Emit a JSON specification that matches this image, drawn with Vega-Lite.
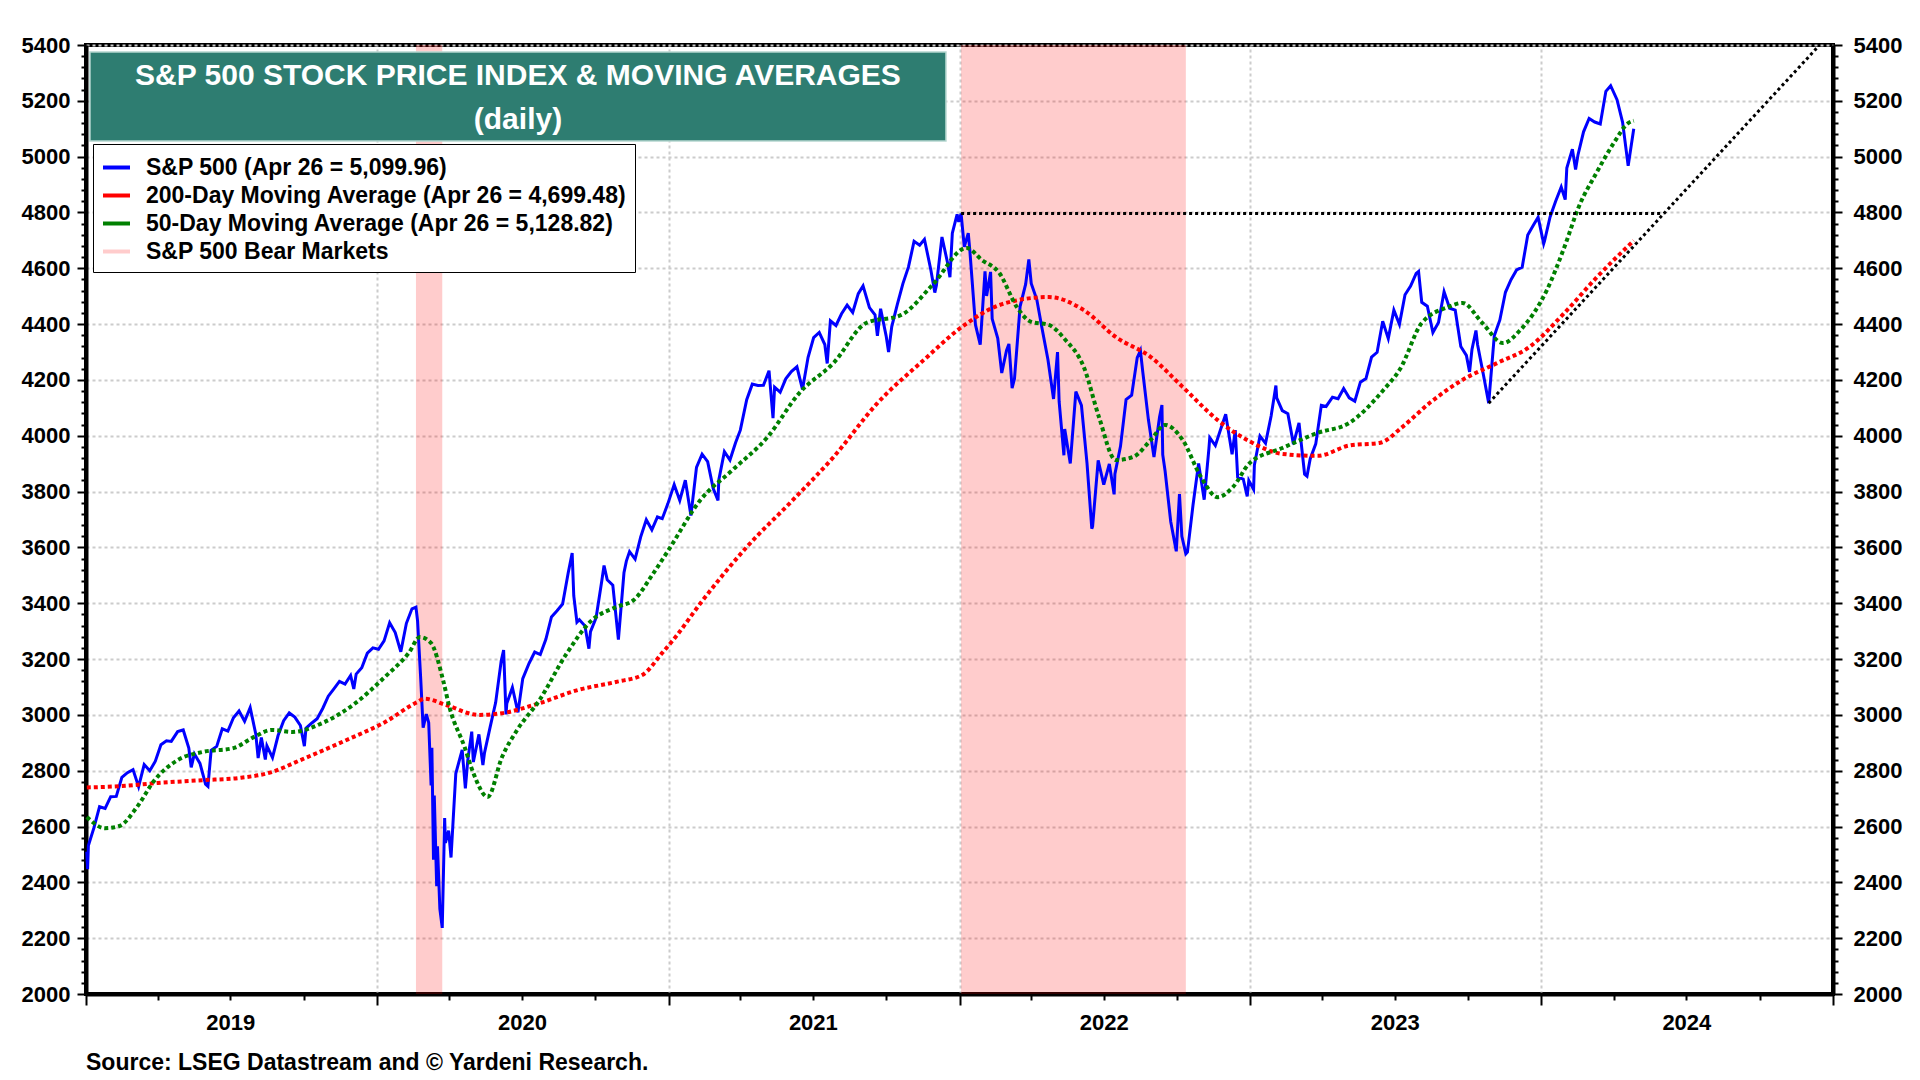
{
  "$schema": "https://vega.github.io/schema/vega-lite/v6.json",
  "width": 1747,
  "height": 949,
  "autosize": {"type": "none"},
  "padding": {"left": 86, "top": 45, "right": 87, "bottom": 86},
  "background": "white",
  "title": {
    "text": "Source: LSEG Datastream and © Yardeni Research.",
    "orient": "bottom",
    "anchor": "start",
    "frame": "group",
    "font": "Liberation Sans",
    "fontSize": 23,
    "fontWeight": "bold",
    "color": "black",
    "offset": 19
  },
  "config": {
    "font": "Liberation Sans",
    "view": {"stroke": "black", "strokeWidth": 4},
    "axis": {
      "labelFont": "Liberation Sans",
      "labelFontWeight": "bold",
      "labelFontSize": 22,
      "labelColor": "black",
      "domainColor": "black",
      "domainWidth": 4,
      "tickColor": "black",
      "tickWidth": 2,
      "gridColor": "#cccccc",
      "gridWidth": 2,
      "gridDash": [3, 3],
      "title": null
    }
  },
  "datasets": {
    "bears": [
      {"start": "2020-02-19", "end": "2020-03-23"},
      {"start": "2022-01-03", "end": "2022-10-12"}
    ],
    "trend": [
      {"line": "top", "date": "2022-01-03", "value": 4796},
      {"line": "top", "date": "2024-06-02", "value": 4796},
      {"line": "support", "date": "2023-10-27", "value": 4117},
      {"line": "support", "date": "2024-12-12", "value": 5390}
    ],
    "ma200": [
      {"date": "2019-01-02", "value": 2740}, {"date": "2019-02-15", "value": 2745},
      {"date": "2019-04-01", "value": 2756}, {"date": "2019-05-27", "value": 2766},
      {"date": "2019-07-12", "value": 2774}, {"date": "2019-08-22", "value": 2795},
      {"date": "2019-09-27", "value": 2838}, {"date": "2019-11-24", "value": 2910},
      {"date": "2020-01-11", "value": 2974}, {"date": "2020-02-20", "value": 3045},
      {"date": "2020-03-01", "value": 3058}, {"date": "2020-03-28", "value": 3035},
      {"date": "2020-05-08", "value": 3000}, {"date": "2020-06-06", "value": 3006},
      {"date": "2020-07-23", "value": 3042}, {"date": "2020-09-09", "value": 3089},
      {"date": "2020-10-27", "value": 3118}, {"date": "2020-11-29", "value": 3143},
      {"date": "2020-12-24", "value": 3222}, {"date": "2021-01-10", "value": 3280},
      {"date": "2021-02-10", "value": 3400}, {"date": "2021-04-08", "value": 3598},
      {"date": "2021-06-06", "value": 3770}, {"date": "2021-07-27", "value": 3924},
      {"date": "2021-09-20", "value": 4117}, {"date": "2021-11-17", "value": 4271},
      {"date": "2022-01-04", "value": 4390}, {"date": "2022-02-17", "value": 4465},
      {"date": "2022-03-14", "value": 4485}, {"date": "2022-04-23", "value": 4497},
      {"date": "2022-06-06", "value": 4450}, {"date": "2022-07-16", "value": 4354},
      {"date": "2022-08-29", "value": 4282}, {"date": "2022-10-08", "value": 4175},
      {"date": "2022-11-21", "value": 4056}, {"date": "2022-12-31", "value": 3980},
      {"date": "2023-02-10", "value": 3935}, {"date": "2023-03-26", "value": 3928},
      {"date": "2023-05-05", "value": 3965}, {"date": "2023-06-13", "value": 3975},
      {"date": "2023-07-10", "value": 4030}, {"date": "2023-08-15", "value": 4120},
      {"date": "2023-09-24", "value": 4200}, {"date": "2023-11-07", "value": 4261},
      {"date": "2023-12-17", "value": 4318}, {"date": "2024-01-30", "value": 4440},
      {"date": "2024-03-11", "value": 4569}, {"date": "2024-04-26", "value": 4699}
    ],
    "ma50": [
      {"date": "2019-01-02", "value": 2634}, {"date": "2019-01-25", "value": 2594},
      {"date": "2019-02-12", "value": 2602}, {"date": "2019-03-06", "value": 2670},
      {"date": "2019-03-28", "value": 2766}, {"date": "2019-04-26", "value": 2838},
      {"date": "2019-05-27", "value": 2867}, {"date": "2019-07-05", "value": 2881},
      {"date": "2019-07-31", "value": 2921}, {"date": "2019-08-22", "value": 2946},
      {"date": "2019-09-17", "value": 2939}, {"date": "2019-10-27", "value": 2974},
      {"date": "2019-12-05", "value": 3042}, {"date": "2020-01-11", "value": 3136},
      {"date": "2020-02-10", "value": 3222}, {"date": "2020-02-24", "value": 3279},
      {"date": "2020-03-09", "value": 3257}, {"date": "2020-03-24", "value": 3125},
      {"date": "2020-04-01", "value": 3028}, {"date": "2020-04-20", "value": 2885},
      {"date": "2020-05-01", "value": 2792}, {"date": "2020-05-19", "value": 2706},
      {"date": "2020-06-06", "value": 2849}, {"date": "2020-06-25", "value": 2946},
      {"date": "2020-07-23", "value": 3053}, {"date": "2020-08-25", "value": 3215},
      {"date": "2020-09-27", "value": 3340}, {"date": "2020-10-27", "value": 3386},
      {"date": "2020-11-18", "value": 3411}, {"date": "2020-12-13", "value": 3508},
      {"date": "2021-01-01", "value": 3591}, {"date": "2021-02-10", "value": 3770},
      {"date": "2021-03-22", "value": 3877}, {"date": "2021-05-05", "value": 3995},
      {"date": "2021-06-14", "value": 4153}, {"date": "2021-07-27", "value": 4261},
      {"date": "2021-09-06", "value": 4404}, {"date": "2021-10-20", "value": 4433},
      {"date": "2021-11-28", "value": 4540}, {"date": "2022-01-10", "value": 4673},
      {"date": "2022-01-29", "value": 4630}, {"date": "2022-02-20", "value": 4583},
      {"date": "2022-03-14", "value": 4461}, {"date": "2022-04-01", "value": 4408},
      {"date": "2022-04-23", "value": 4397}, {"date": "2022-05-14", "value": 4343},
      {"date": "2022-06-06", "value": 4246}, {"date": "2022-06-25", "value": 4067},
      {"date": "2022-07-16", "value": 3913}, {"date": "2022-08-07", "value": 3924},
      {"date": "2022-08-29", "value": 3985}, {"date": "2022-09-16", "value": 4039},
      {"date": "2022-10-08", "value": 3985}, {"date": "2022-10-31", "value": 3852},
      {"date": "2022-11-21", "value": 3780}, {"date": "2022-12-10", "value": 3816},
      {"date": "2022-12-31", "value": 3902}, {"date": "2023-02-10", "value": 3956},
      {"date": "2023-03-26", "value": 4010}, {"date": "2023-05-05", "value": 4046},
      {"date": "2023-06-17", "value": 4164}, {"date": "2023-07-08", "value": 4240},
      {"date": "2023-08-04", "value": 4404}, {"date": "2023-09-06", "value": 4461},
      {"date": "2023-09-24", "value": 4476}, {"date": "2023-10-19", "value": 4404},
      {"date": "2023-11-14", "value": 4332}, {"date": "2023-12-06", "value": 4380},
      {"date": "2024-01-08", "value": 4522}, {"date": "2024-01-30", "value": 4676},
      {"date": "2024-02-17", "value": 4820}, {"date": "2024-03-10", "value": 4941},
      {"date": "2024-04-01", "value": 5049}, {"date": "2024-04-19", "value": 5120},
      {"date": "2024-04-26", "value": 5129}
    ],
    "spx": [
      {"date": "2019-01-02", "close": 2510}, {"date": "2019-01-03", "close": 2447},
      {"date": "2019-01-04", "close": 2532}, {"date": "2019-01-11", "close": 2596},
      {"date": "2019-01-18", "close": 2671}, {"date": "2019-01-25", "close": 2665},
      {"date": "2019-02-01", "close": 2707}, {"date": "2019-02-08", "close": 2708},
      {"date": "2019-02-15", "close": 2776}, {"date": "2019-02-22", "close": 2793},
      {"date": "2019-03-01", "close": 2804}, {"date": "2019-03-08", "close": 2743},
      {"date": "2019-03-15", "close": 2822}, {"date": "2019-03-22", "close": 2800},
      {"date": "2019-03-29", "close": 2834}, {"date": "2019-04-05", "close": 2893},
      {"date": "2019-04-12", "close": 2907}, {"date": "2019-04-18", "close": 2905},
      {"date": "2019-04-26", "close": 2940}, {"date": "2019-05-03", "close": 2946},
      {"date": "2019-05-10", "close": 2881}, {"date": "2019-05-13", "close": 2812},
      {"date": "2019-05-17", "close": 2860}, {"date": "2019-05-24", "close": 2826},
      {"date": "2019-05-31", "close": 2752}, {"date": "2019-06-03", "close": 2744},
      {"date": "2019-06-07", "close": 2873}, {"date": "2019-06-14", "close": 2887},
      {"date": "2019-06-21", "close": 2950}, {"date": "2019-06-28", "close": 2942},
      {"date": "2019-07-05", "close": 2990}, {"date": "2019-07-12", "close": 3014},
      {"date": "2019-07-19", "close": 2977}, {"date": "2019-07-26", "close": 3026},
      {"date": "2019-08-02", "close": 2932}, {"date": "2019-08-05", "close": 2845},
      {"date": "2019-08-09", "close": 2919}, {"date": "2019-08-14", "close": 2840},
      {"date": "2019-08-16", "close": 2889}, {"date": "2019-08-23", "close": 2847},
      {"date": "2019-08-30", "close": 2926}, {"date": "2019-09-06", "close": 2979},
      {"date": "2019-09-13", "close": 3007}, {"date": "2019-09-20", "close": 2992},
      {"date": "2019-09-27", "close": 2962}, {"date": "2019-10-02", "close": 2888},
      {"date": "2019-10-04", "close": 2952}, {"date": "2019-10-11", "close": 2970},
      {"date": "2019-10-18", "close": 2986}, {"date": "2019-10-25", "close": 3023},
      {"date": "2019-11-01", "close": 3067}, {"date": "2019-11-08", "close": 3093},
      {"date": "2019-11-15", "close": 3120}, {"date": "2019-11-22", "close": 3110},
      {"date": "2019-11-29", "close": 3141}, {"date": "2019-12-03", "close": 3093},
      {"date": "2019-12-06", "close": 3146}, {"date": "2019-12-13", "close": 3169},
      {"date": "2019-12-20", "close": 3221}, {"date": "2019-12-27", "close": 3240},
      {"date": "2020-01-03", "close": 3235}, {"date": "2020-01-10", "close": 3265},
      {"date": "2020-01-17", "close": 3330}, {"date": "2020-01-24", "close": 3295},
      {"date": "2020-01-31", "close": 3226}, {"date": "2020-02-07", "close": 3328},
      {"date": "2020-02-14", "close": 3380}, {"date": "2020-02-19", "close": 3386},
      {"date": "2020-02-21", "close": 3338}, {"date": "2020-02-25", "close": 3128},
      {"date": "2020-02-28", "close": 2954}, {"date": "2020-03-03", "close": 3003},
      {"date": "2020-03-06", "close": 2972}, {"date": "2020-03-09", "close": 2747},
      {"date": "2020-03-10", "close": 2882}, {"date": "2020-03-12", "close": 2481},
      {"date": "2020-03-13", "close": 2711}, {"date": "2020-03-16", "close": 2386},
      {"date": "2020-03-17", "close": 2529}, {"date": "2020-03-20", "close": 2305},
      {"date": "2020-03-23", "close": 2237}, {"date": "2020-03-26", "close": 2630},
      {"date": "2020-03-27", "close": 2541}, {"date": "2020-03-31", "close": 2585},
      {"date": "2020-04-03", "close": 2489}, {"date": "2020-04-09", "close": 2790},
      {"date": "2020-04-17", "close": 2875}, {"date": "2020-04-21", "close": 2737},
      {"date": "2020-04-24", "close": 2837}, {"date": "2020-04-29", "close": 2940},
      {"date": "2020-05-01", "close": 2831}, {"date": "2020-05-08", "close": 2930},
      {"date": "2020-05-13", "close": 2820}, {"date": "2020-05-15", "close": 2864},
      {"date": "2020-05-22", "close": 2955}, {"date": "2020-05-29", "close": 3044},
      {"date": "2020-06-05", "close": 3194}, {"date": "2020-06-08", "close": 3232},
      {"date": "2020-06-11", "close": 3002}, {"date": "2020-06-12", "close": 3041},
      {"date": "2020-06-19", "close": 3098}, {"date": "2020-06-26", "close": 3009},
      {"date": "2020-07-02", "close": 3130}, {"date": "2020-07-10", "close": 3185},
      {"date": "2020-07-17", "close": 3225}, {"date": "2020-07-24", "close": 3216},
      {"date": "2020-07-31", "close": 3271}, {"date": "2020-08-07", "close": 3351},
      {"date": "2020-08-14", "close": 3373}, {"date": "2020-08-21", "close": 3397},
      {"date": "2020-08-28", "close": 3508}, {"date": "2020-09-02", "close": 3580},
      {"date": "2020-09-04", "close": 3427}, {"date": "2020-09-08", "close": 3332},
      {"date": "2020-09-11", "close": 3341}, {"date": "2020-09-18", "close": 3319},
      {"date": "2020-09-23", "close": 3237}, {"date": "2020-09-25", "close": 3298},
      {"date": "2020-10-02", "close": 3348}, {"date": "2020-10-09", "close": 3477},
      {"date": "2020-10-12", "close": 3535}, {"date": "2020-10-16", "close": 3484},
      {"date": "2020-10-23", "close": 3465}, {"date": "2020-10-30", "close": 3270},
      {"date": "2020-11-06", "close": 3509}, {"date": "2020-11-09", "close": 3551},
      {"date": "2020-11-13", "close": 3585}, {"date": "2020-11-20", "close": 3558},
      {"date": "2020-11-27", "close": 3638}, {"date": "2020-12-04", "close": 3699},
      {"date": "2020-12-11", "close": 3663}, {"date": "2020-12-18", "close": 3709},
      {"date": "2020-12-24", "close": 3703}, {"date": "2020-12-31", "close": 3756},
      {"date": "2021-01-08", "close": 3825}, {"date": "2021-01-15", "close": 3768},
      {"date": "2021-01-22", "close": 3841}, {"date": "2021-01-29", "close": 3714},
      {"date": "2021-02-05", "close": 3887}, {"date": "2021-02-12", "close": 3934},
      {"date": "2021-02-19", "close": 3907}, {"date": "2021-02-26", "close": 3811},
      {"date": "2021-03-04", "close": 3768}, {"date": "2021-03-05", "close": 3842},
      {"date": "2021-03-12", "close": 3943}, {"date": "2021-03-19", "close": 3913},
      {"date": "2021-03-26", "close": 3975}, {"date": "2021-04-01", "close": 4020},
      {"date": "2021-04-09", "close": 4129}, {"date": "2021-04-16", "close": 4185},
      {"date": "2021-04-23", "close": 4180}, {"date": "2021-04-30", "close": 4181},
      {"date": "2021-05-07", "close": 4233}, {"date": "2021-05-12", "close": 4063},
      {"date": "2021-05-14", "close": 4174}, {"date": "2021-05-21", "close": 4156},
      {"date": "2021-05-28", "close": 4204}, {"date": "2021-06-04", "close": 4230},
      {"date": "2021-06-11", "close": 4247}, {"date": "2021-06-18", "close": 4166},
      {"date": "2021-06-25", "close": 4281}, {"date": "2021-07-02", "close": 4352},
      {"date": "2021-07-09", "close": 4370}, {"date": "2021-07-16", "close": 4327},
      {"date": "2021-07-19", "close": 4259}, {"date": "2021-07-23", "close": 4412},
      {"date": "2021-07-30", "close": 4395}, {"date": "2021-08-06", "close": 4437},
      {"date": "2021-08-13", "close": 4468}, {"date": "2021-08-20", "close": 4442},
      {"date": "2021-08-27", "close": 4509}, {"date": "2021-09-02", "close": 4537},
      {"date": "2021-09-10", "close": 4459}, {"date": "2021-09-17", "close": 4433},
      {"date": "2021-09-20", "close": 4358}, {"date": "2021-09-24", "close": 4455},
      {"date": "2021-10-01", "close": 4357}, {"date": "2021-10-04", "close": 4300},
      {"date": "2021-10-08", "close": 4391}, {"date": "2021-10-15", "close": 4471},
      {"date": "2021-10-22", "close": 4545}, {"date": "2021-10-29", "close": 4605},
      {"date": "2021-11-05", "close": 4697}, {"date": "2021-11-12", "close": 4683},
      {"date": "2021-11-18", "close": 4704}, {"date": "2021-11-26", "close": 4595},
      {"date": "2021-12-01", "close": 4513}, {"date": "2021-12-03", "close": 4538},
      {"date": "2021-12-10", "close": 4712}, {"date": "2021-12-17", "close": 4620},
      {"date": "2021-12-20", "close": 4568}, {"date": "2021-12-23", "close": 4726},
      {"date": "2021-12-29", "close": 4793}, {"date": "2021-12-31", "close": 4766},
      {"date": "2022-01-03", "close": 4796}, {"date": "2022-01-07", "close": 4677},
      {"date": "2022-01-12", "close": 4726}, {"date": "2022-01-14", "close": 4663},
      {"date": "2022-01-21", "close": 4398}, {"date": "2022-01-27", "close": 4326},
      {"date": "2022-02-02", "close": 4589}, {"date": "2022-02-04", "close": 4501},
      {"date": "2022-02-09", "close": 4587}, {"date": "2022-02-11", "close": 4419},
      {"date": "2022-02-18", "close": 4349}, {"date": "2022-02-23", "close": 4225},
      {"date": "2022-03-01", "close": 4306}, {"date": "2022-03-04", "close": 4329},
      {"date": "2022-03-08", "close": 4171}, {"date": "2022-03-11", "close": 4204},
      {"date": "2022-03-18", "close": 4463}, {"date": "2022-03-25", "close": 4543},
      {"date": "2022-03-29", "close": 4632}, {"date": "2022-04-01", "close": 4546},
      {"date": "2022-04-08", "close": 4488}, {"date": "2022-04-14", "close": 4393},
      {"date": "2022-04-22", "close": 4272}, {"date": "2022-04-29", "close": 4132},
      {"date": "2022-05-04", "close": 4300}, {"date": "2022-05-06", "close": 4123},
      {"date": "2022-05-12", "close": 3930}, {"date": "2022-05-13", "close": 4024},
      {"date": "2022-05-20", "close": 3901}, {"date": "2022-05-27", "close": 4158},
      {"date": "2022-06-03", "close": 4109}, {"date": "2022-06-10", "close": 3901},
      {"date": "2022-06-16", "close": 3667}, {"date": "2022-06-17", "close": 3675},
      {"date": "2022-06-24", "close": 3912}, {"date": "2022-07-01", "close": 3825},
      {"date": "2022-07-08", "close": 3899}, {"date": "2022-07-14", "close": 3790},
      {"date": "2022-07-15", "close": 3863}, {"date": "2022-07-22", "close": 3962},
      {"date": "2022-07-29", "close": 4130}, {"date": "2022-08-05", "close": 4145},
      {"date": "2022-08-12", "close": 4280}, {"date": "2022-08-16", "close": 4305},
      {"date": "2022-08-19", "close": 4228}, {"date": "2022-08-26", "close": 4058},
      {"date": "2022-09-02", "close": 3924}, {"date": "2022-09-09", "close": 4067},
      {"date": "2022-09-12", "close": 4110}, {"date": "2022-09-13", "close": 3932},
      {"date": "2022-09-16", "close": 3873}, {"date": "2022-09-23", "close": 3693},
      {"date": "2022-09-30", "close": 3586}, {"date": "2022-10-04", "close": 3791},
      {"date": "2022-10-07", "close": 3640}, {"date": "2022-10-12", "close": 3577},
      {"date": "2022-10-14", "close": 3583}, {"date": "2022-10-21", "close": 3752},
      {"date": "2022-10-28", "close": 3901}, {"date": "2022-11-04", "close": 3771},
      {"date": "2022-11-10", "close": 3956}, {"date": "2022-11-11", "close": 3993},
      {"date": "2022-11-18", "close": 3965}, {"date": "2022-11-25", "close": 4026},
      {"date": "2022-12-01", "close": 4077}, {"date": "2022-12-09", "close": 3934},
      {"date": "2022-12-13", "close": 4020}, {"date": "2022-12-16", "close": 3852},
      {"date": "2022-12-23", "close": 3845}, {"date": "2022-12-28", "close": 3783},
      {"date": "2022-12-30", "close": 3840}, {"date": "2023-01-05", "close": 3808},
      {"date": "2023-01-06", "close": 3895}, {"date": "2023-01-13", "close": 3999},
      {"date": "2023-01-20", "close": 3973}, {"date": "2023-01-27", "close": 4071},
      {"date": "2023-02-02", "close": 4180}, {"date": "2023-02-03", "close": 4136},
      {"date": "2023-02-10", "close": 4090}, {"date": "2023-02-17", "close": 4079},
      {"date": "2023-02-24", "close": 3970}, {"date": "2023-03-03", "close": 4046},
      {"date": "2023-03-10", "close": 3862}, {"date": "2023-03-13", "close": 3855},
      {"date": "2023-03-17", "close": 3917}, {"date": "2023-03-24", "close": 3971},
      {"date": "2023-03-31", "close": 4109}, {"date": "2023-04-06", "close": 4105},
      {"date": "2023-04-14", "close": 4138}, {"date": "2023-04-21", "close": 4133},
      {"date": "2023-04-28", "close": 4169}, {"date": "2023-05-05", "close": 4136},
      {"date": "2023-05-12", "close": 4124}, {"date": "2023-05-19", "close": 4192},
      {"date": "2023-05-26", "close": 4205}, {"date": "2023-06-02", "close": 4282},
      {"date": "2023-06-09", "close": 4299}, {"date": "2023-06-16", "close": 4410},
      {"date": "2023-06-23", "close": 4348}, {"date": "2023-06-30", "close": 4450},
      {"date": "2023-07-07", "close": 4399}, {"date": "2023-07-14", "close": 4505},
      {"date": "2023-07-21", "close": 4536}, {"date": "2023-07-28", "close": 4582},
      {"date": "2023-07-31", "close": 4589}, {"date": "2023-08-04", "close": 4478},
      {"date": "2023-08-11", "close": 4464}, {"date": "2023-08-18", "close": 4370},
      {"date": "2023-08-25", "close": 4406}, {"date": "2023-09-01", "close": 4516},
      {"date": "2023-09-08", "close": 4457}, {"date": "2023-09-15", "close": 4450},
      {"date": "2023-09-22", "close": 4320}, {"date": "2023-09-29", "close": 4288},
      {"date": "2023-10-03", "close": 4229}, {"date": "2023-10-06", "close": 4309},
      {"date": "2023-10-11", "close": 4377}, {"date": "2023-10-13", "close": 4327},
      {"date": "2023-10-20", "close": 4224}, {"date": "2023-10-27", "close": 4117},
      {"date": "2023-11-03", "close": 4358}, {"date": "2023-11-10", "close": 4415},
      {"date": "2023-11-17", "close": 4514}, {"date": "2023-11-24", "close": 4559},
      {"date": "2023-12-01", "close": 4594}, {"date": "2023-12-08", "close": 4604},
      {"date": "2023-12-15", "close": 4719}, {"date": "2023-12-22", "close": 4754},
      {"date": "2023-12-28", "close": 4783}, {"date": "2023-12-29", "close": 4770},
      {"date": "2024-01-04", "close": 4688}, {"date": "2024-01-05", "close": 4697},
      {"date": "2024-01-12", "close": 4784}, {"date": "2024-01-19", "close": 4840},
      {"date": "2024-01-26", "close": 4891}, {"date": "2024-01-31", "close": 4846},
      {"date": "2024-02-02", "close": 4959}, {"date": "2024-02-09", "close": 5027},
      {"date": "2024-02-13", "close": 4954}, {"date": "2024-02-16", "close": 5006},
      {"date": "2024-02-23", "close": 5089}, {"date": "2024-03-01", "close": 5137},
      {"date": "2024-03-08", "close": 5124}, {"date": "2024-03-15", "close": 5117},
      {"date": "2024-03-22", "close": 5234}, {"date": "2024-03-28", "close": 5254},
      {"date": "2024-04-05", "close": 5204}, {"date": "2024-04-12", "close": 5123},
      {"date": "2024-04-19", "close": 4967}, {"date": "2024-04-26", "close": 5100}
    ]
  },
  "resolve": {"scale": {"y": "shared", "x": "shared"}, "axis": {"x": "independent", "y": "independent"}},
  "layer": [
    {
      "data": {"name": "bears", "format": {"parse": {"start": "date", "end": "date"}}},
      "mark": {"type": "rect", "fill": "#ff0000", "opacity": 0.2},
      "encoding": {
        "x": {"field": "start", "type": "quantitative",
              "scale": {"domain": [1546300800000, 1735689600000], "nice": false, "zero": false},
              "axis": {
                "orient": "bottom",
                "values": [1546300800000, 1577836800000, 1609459200000, 1640995200000, 1672531200000, 1704067200000, 1735689600000],
                "grid": true,
                "labels": false,
                "tickSize": 11,
                "domain": true
              }},
        "x2": {"field": "end"}
      }
    },
    {
      "data": {"name": "spx", "format": {"parse": {"date": "date"}}},
      "mark": {"type": "line", "strokeWidth": 3},
      "encoding": {
        "x": {
          "field": "date", "type": "quantitative",
          "scale": {"domain": [1546300800000, 1735689600000], "nice": false, "zero": false},
          "axis": {
            "orient": "bottom",
            "values": [1554076800000, 1561939200000, 1569888000000,
                       1585699200000, 1593561600000, 1601510400000,
                       1617235200000, 1625097600000, 1633046400000,
                       1648771200000, 1656633600000, 1664582400000,
                       1680307200000, 1688169600000, 1696118400000,
                       1711929600000, 1719792000000, 1727740800000],
            "labelExpr": "utcmonth(datum.value) === 6 ? utcFormat(datum.value, '%Y') : ''",
            "tickSize": 6,
            "grid": false,
            "domain": false,
            "labelPadding": 12,
            "labelFlush": false,
            "labelOverlap": false
          }
        },
        "y": {
          "field": "close", "type": "quantitative",
          "scale": {"domain": [2000, 5400], "nice": false, "zero": false},
          "axis": {
            "orient": "left",
            "values": [2000, 2200, 2400, 2600, 2800, 3000, 3200, 3400, 3600, 3800, 4000, 4200, 4400, 4600, 4800, 5000, 5200, 5400],
            "format": "d",
            "tickSize": 9,
            "grid": true,
            "labelPadding": 7,
            "labelOverlap": false
          }
        },
        "color": {
          "datum": "S&P 500 (Apr 26 = 5,099.96)",
          "scale": {
            "domain": ["S&P 500 (Apr 26 = 5,099.96)", "200-Day Moving Average (Apr 26 = 4,699.48)", "50-Day Moving Average (Apr 26 = 5,128.82)", "S&P 500 Bear Markets"],
            "range": ["#0000ff", "#ff0000", "#008000", "#ffcccc"]
          },
          "legend": {
            "title": null,
            "orient": "none",
            "legendX": 7,
            "legendY": 99,
            "direction": "vertical",
            "symbolType": "stroke",
            "symbolSize": 729,
            "symbolStrokeWidth": 4,
            "rowPadding": 0,
            "padding": 8,
            "labelOffset": 14,
            "labelFont": "Liberation Sans",
            "labelFontSize": 23,
            "labelFontWeight": "bold",
            "labelColor": "black",
            "labelLimit": 1000,
            "fillColor": "white",
            "strokeColor": "black"
          }
        }
      }
    },
    {
      "data": {"name": "ma200", "format": {"parse": {"date": "date"}}},
      "mark": {"type": "line", "strokeWidth": 4, "strokeDash": [4, 3], "interpolate": "monotone"},
      "encoding": {
        "x": {"field": "date", "type": "quantitative", "axis": null},
        "y": {
          "field": "value", "type": "quantitative",
          "axis": {
            "orient": "left",
            "values": [2040,2080,2120,2160,2240,2280,2320,2360,2440,2480,2520,2560,2640,2680,2720,2760,2840,2880,2920,2960,3040,3080,3120,3160,3240,3280,3320,3360,3440,3480,3520,3560,3640,3680,3720,3760,3840,3880,3920,3960,4040,4080,4120,4160,4240,4280,4320,4360,4440,4480,4520,4560,4640,4680,4720,4760,4840,4880,4920,4960,5040,5080,5120,5160,5240,5280,5320,5360],
            "tickSize": 5,
            "labels": false,
            "domain": false,
            "grid": false
          }
        },
        "color": {"datum": "200-Day Moving Average (Apr 26 = 4,699.48)"}
      }
    },
    {
      "data": {"name": "ma50", "format": {"parse": {"date": "date"}}},
      "mark": {"type": "line", "strokeWidth": 4, "strokeDash": [4, 3], "interpolate": "monotone"},
      "encoding": {
        "x": {"field": "date", "type": "quantitative", "axis": null},
        "y": {
          "field": "value", "type": "quantitative",
          "axis": {
            "orient": "right",
            "values": [2000, 2200, 2400, 2600, 2800, 3000, 3200, 3400, 3600, 3800, 4000, 4200, 4400, 4600, 4800, 5000, 5200, 5400],
            "format": "d",
            "tickSize": 9,
            "grid": false,
            "labelPadding": 11,
            "labelOverlap": false
          }
        },
        "color": {"datum": "50-Day Moving Average (Apr 26 = 5,128.82)"}
      }
    },
    {
      "data": {"name": "trend", "format": {"parse": {"date": "date"}}},
      "mark": {"type": "line", "color": "black", "strokeWidth": 3, "strokeDash": [3, 3]},
      "encoding": {
        "x": {"field": "date", "type": "quantitative", "axis": null},
        "y": {
          "field": "value", "type": "quantitative",
          "axis": {
            "orient": "right",
            "values": [2040,2080,2120,2160,2240,2280,2320,2360,2440,2480,2520,2560,2640,2680,2720,2760,2840,2880,2920,2960,3040,3080,3120,3160,3240,3280,3320,3360,3440,3480,3520,3560,3640,3680,3720,3760,3840,3880,3920,3960,4040,4080,4120,4160,4240,4280,4320,4360,4440,4480,4520,4560,4640,4680,4720,4760,4840,4880,4920,4960,5040,5080,5120,5160,5240,5280,5320,5360],
            "tickSize": 5,
            "labels": false,
            "domain": false,
            "grid": false
          }
        },
        "detail": {"field": "line"}
      }
    },
    {
      "data": {"values": [{}]},
      "mark": {"type": "rect", "fill": "#2e7d71", "stroke": "#b5d6cf", "strokeWidth": 1.5},
      "encoding": {
        "x": {"datum": 1546732800000, "type": "quantitative", "axis": null},
        "x2": {"datum": 1639526400000},
        "y": {"datum": 5375, "type": "quantitative", "axis": null},
        "y2": {"datum": 5056}
      }
    },
    {
      "data": {"values": [{}]},
      "mark": {
        "type": "text",
        "text": ["S&P 500 STOCK PRICE INDEX & MOVING AVERAGES", "(daily)"],
        "align": "center",
        "baseline": "middle",
        "lineHeight": 44,
        "font": "Liberation Sans",
        "fontSize": 30,
        "fontWeight": "bold",
        "color": "white"
      },
      "encoding": {
        "x": {"datum": 1593129600000, "type": "quantitative", "axis": null},
        "y": {"datum": 5290, "type": "quantitative", "axis": null}
      }
    }
  ]
}
